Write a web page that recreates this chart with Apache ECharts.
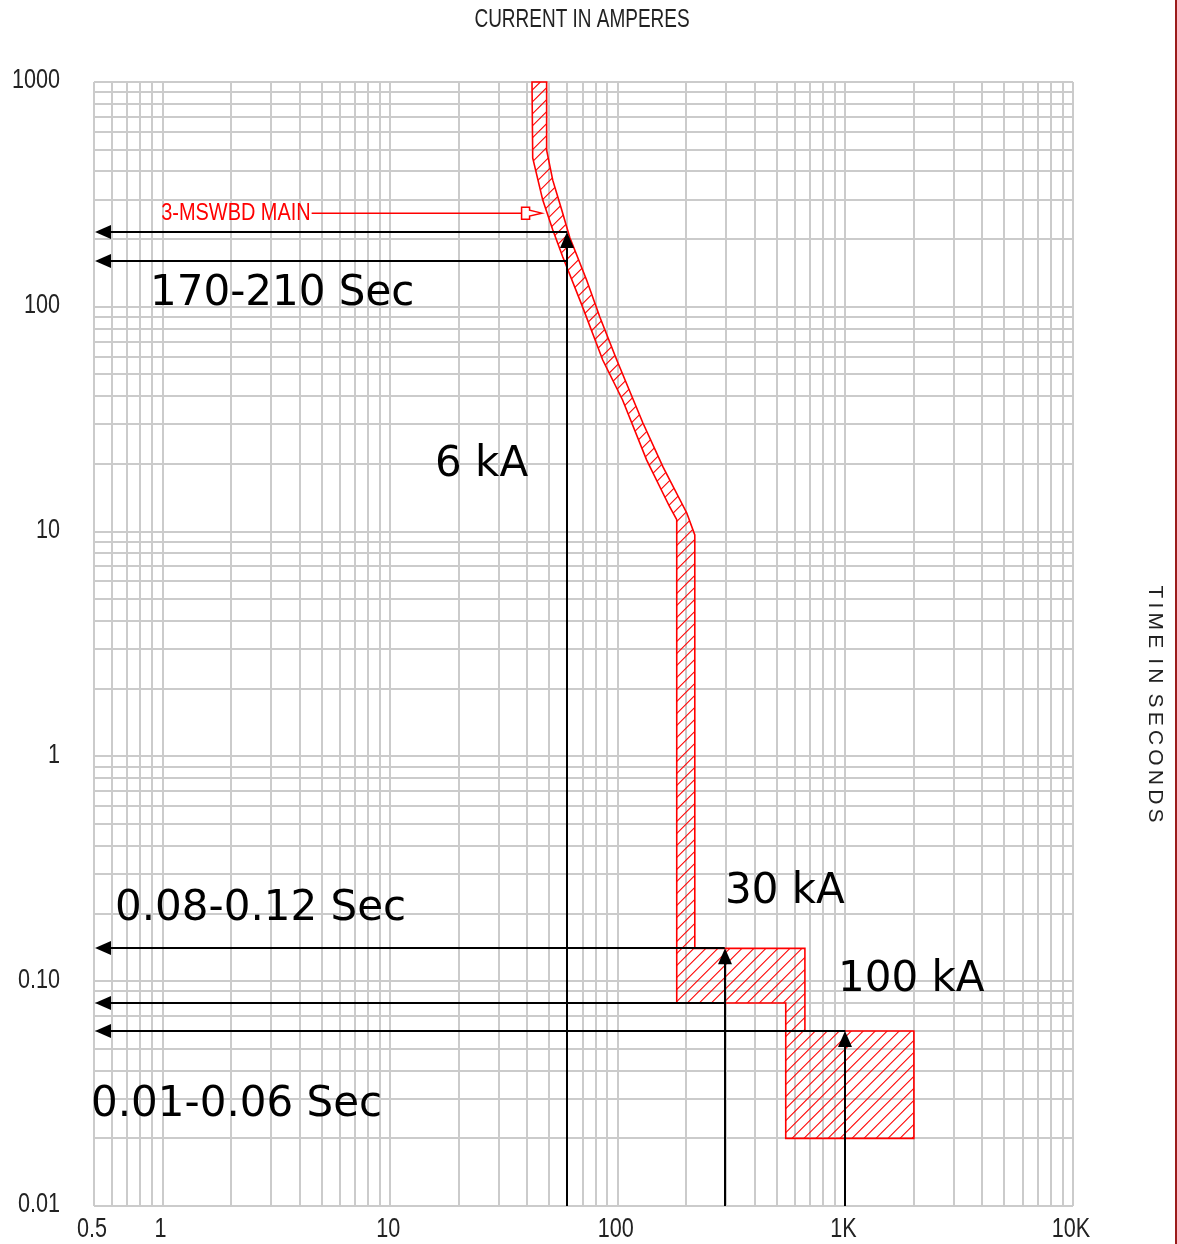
<!DOCTYPE html>
<html><head><meta charset="utf-8">
<script src="https://cdn.jsdelivr.net/npm/echarts@6/dist/echarts.min.js"></script>
<style>html,body{margin:0;padding:0;background:#fff}#c{width:1177px;height:1244px}</style>
</head><body><div id="c"></div>
<script>
// ---- axis tick labels ----
const xTicks = [0.5, 1, 10, 100, 1000, 10000];
const xTickLabels = ['0.5', '1', '10', '100', '1K', '10K'];
const yTicks = [0.01, 0.1, 1, 10, 100, 1000];
const yTickLabels = ['0.01', '0.10', '1', '10', '100', '1000'];

// ---- 3-MSWBD MAIN trip band outline (current A, time s), clockwise ----
const bandCurrent = [42, 42.3, 46.8, 51.8, 57.3, 69.5, 85.9, 105, 134, 169, 181.6,
  181.6, 547, 547, 2000, 2000, 664, 664, 218, 218,
  201, 158, 129, 99, 83.4, 73.1, 61.5, 56.7, 51.8, 48.7, 48.7];
const bandTime = [1000, 459, 299, 220, 167, 102, 58, 38.5, 20.8, 12.9, 11.3,
  0.080, 0.080, 0.02, 0.02, 0.06, 0.06, 0.14, 0.14, 9.66,
  12.1, 19.4, 30.4, 58, 90, 131, 204, 270, 366, 498, 1000];

// ---- black annotation arrows ----
// horizontal arrows: from left edge (arrow head) to current hEnd at time hTime
const hTime = [215, 160, 0.14, 0.08, 0.06];
const hEnd = [60, 60, 295, 295, 1000];
// vertical arrows: from bottom up to time vTop (arrow head at top)
const vCurrent = [60, 295, 1000];
const vTop = [215, 0.14, 0.06];

// ---- red label pointer (current from, to, tip; time) ----
const pointerCurrent = [4.52, 37.8, 46.4];
const pointerTime = 261;

const X_MIN = 0.5, X_MAX = 10000, Y_MIN = 0.01, Y_MAX = 1000;

// log grid lines (1..9 per decade)
const gridX = [], gridY = [];
for (let e = -1; e <= 3; e++) for (let m = 1; m <= 9; m++) {
  const v = +(m * Math.pow(10, e)).toPrecision(3);
  if (v >= X_MIN && v <= X_MAX) gridX.push(v);
}
gridX.push(X_MAX);
for (let e = -2; e <= 2; e++) for (let m = 1; m <= 9; m++) gridY.push(+(m * Math.pow(10, e)).toPrecision(3));
gridY.push(Y_MAX);

const SANS = '"Liberation Sans", Arial, sans-serif';
const BIG = '"DejaVu Sans", Verdana, sans-serif';

function narrowText(x, y, text, size, sx, fill, align) {
  return { type: 'text', x: x, y: y, scaleX: sx, scaleY: 1,
    style: { x: 0, y: 0, text: text, fontSize: size, fontFamily: SANS, fill: fill, align: align, verticalAlign: 'middle' } };
}

function renderGrid(params, api) {
  const top = api.coord([1, Y_MAX])[1], bottom = api.coord([1, Y_MIN])[1];
  const left = api.coord([X_MIN, 1])[0], right = api.coord([X_MAX, 1])[0];
  const ch = [];
  gridX.forEach(v => {
    const x = Math.round(api.coord([v, 1])[0]);
    ch.push({ type: 'line', shape: { x1: x, y1: top, x2: x, y2: bottom }, style: { stroke: '#cbcbcb', lineWidth: 2 } });
  });
  gridY.forEach(v => {
    const y = Math.round(api.coord([1, v])[1]);
    ch.push({ type: 'line', shape: { x1: left, y1: y, x2: right, y2: y }, style: { stroke: '#cbcbcb', lineWidth: 2 } });
  });
  xTicks.forEach((v, i) => {
    const x = api.coord([v, 1])[0];
    ch.push(narrowText(x - 2, bottom + 24, xTickLabels[i], 27, 0.8, '#222', 'center'));
  });
  yTicks.forEach((v, i) => {
    const y = api.coord([1, v])[1];
    ch.push(narrowText(left - 34, y - 1, yTickLabels[i], 27, 0.8, '#222', 'right'));
  });
  return { type: 'group', children: ch };
}

function renderBand(params, api) {
  const pts = bandCurrent.map((c, i) => api.coord([c, bandTime[i]]));
  let x0 = Infinity, x1 = -Infinity, y0 = Infinity, y1 = -Infinity;
  pts.forEach(p => { x0 = Math.min(x0, p[0]); x1 = Math.max(x1, p[0]); y0 = Math.min(y0, p[1]); y1 = Math.max(y1, p[1]); });
  const H = y1 - y0;
  const hatch = [];
  for (let s = Math.floor((x0 - H) / 12) * 12; s <= x1; s += 12) {
    hatch.push({ type: 'line', shape: { x1: s, y1: y1, x2: s + H, y2: y0 }, style: { stroke: '#ff0000', lineWidth: 1.1 } });
  }
  return {
    type: 'group', children: [
      { type: 'group', clipPath: { type: 'polygon', shape: { points: pts } }, children: hatch },
      { type: 'polygon', shape: { points: pts }, style: { fill: null, stroke: '#ff0000', lineWidth: 1.6 } }
    ]
  };
}

function triangle(tip, dx, dy, len, hw) {
  const bx = tip[0] + dx * len, by = tip[1] + dy * len;
  return [tip, [bx - dy * hw, by + dx * hw], [bx + dy * hw, by - dx * hw]];
}

function renderArrows(params, api) {
  const ch = [];
  const bottom = api.coord([1, Y_MIN])[1];
  hTime.forEach((t, i) => {
    const a = api.coord([X_MIN, t]), b = api.coord([hEnd[i], t]);
    const y = Math.round(a[1]);
    const tip = [a[0] + 1, y];
    ch.push({ type: 'line', shape: { x1: tip[0] + 8, y1: y, x2: b[0], y2: y }, style: { stroke: '#000', lineWidth: 2 } });
    ch.push({ type: 'polygon', shape: { points: triangle(tip, 1, 0, 16, 7) }, style: { fill: '#000' } });
  });
  vCurrent.forEach((c, i) => {
    const a = api.coord([c, vTop[i]]);
    const x = Math.round(a[0]);
    const tip = [x, a[1]];
    ch.push({ type: 'line', shape: { x1: x, y1: bottom, x2: x, y2: tip[1] + 8 }, style: { stroke: '#000', lineWidth: 2 } });
    ch.push({ type: 'polygon', shape: { points: triangle(tip, 0, 1, 16, 7) }, style: { fill: '#000' } });
  });
  // red pointer from label to curve
  const p0 = api.coord([pointerCurrent[0], pointerTime]);
  const p1 = api.coord([pointerCurrent[1], pointerTime]);
  const p2 = api.coord([pointerCurrent[2], pointerTime]);
  const y = p0[1];
  ch.push({ type: 'line', shape: { x1: p0[0], y1: y, x2: p1[0], y2: y }, style: { stroke: '#ff0000', lineWidth: 1.5 } });
  const r = p1[0] + 8;
  ch.push({ type: 'polygon', shape: { points: [[p1[0], y - 6], [r, y - 6], [r, y - 3], [p2[0], y], [r, y + 3], [r, y + 6], [p1[0], y + 6]] }, style: { fill: '#fff', stroke: '#ff0000', lineWidth: 1.5 } });
  ch.push(narrowText(p0[0] - 1, y, '3-MSWBD MAIN', 24, 0.83, '#ff0000', 'right'));
  return { type: 'group', children: ch };
}

const chart = echarts.init(document.getElementById('c'), null, { renderer: 'canvas' });
const bigText = (x, y, t) => ({ type: 'text', x: x, y: y, style: { text: t, fontSize: 42, fontFamily: BIG, fill: '#000', align: 'left', verticalAlign: 'middle' }, z: 100 });
chart.setOption({
  animation: false,
  backgroundColor: '#fff',
  grid: { left: 94, right: 104, top: 82, bottom: 38, show: false },
  xAxis: { type: 'log', logBase: 10, min: X_MIN, max: X_MAX, axisLine: { show: false }, axisTick: { show: false }, axisLabel: { show: false }, splitLine: { show: false } },
  yAxis: { type: 'log', logBase: 10, min: Y_MIN, max: Y_MAX, axisLine: { show: false }, axisTick: { show: false }, axisLabel: { show: false }, splitLine: { show: false } },
  series: [
    { type: 'custom', name: 'grid', data: [[1, 1]], renderItem: renderGrid, z: 1, silent: true },
    { type: 'custom', name: '3-MSWBD MAIN', data: [[1, 1]], renderItem: renderBand, z: 2, silent: true },
    { type: 'custom', name: 'arrows', data: [[1, 1]], renderItem: renderArrows, z: 3, silent: true }
  ],
  graphic: [
    { type: 'text', x: 582, y: 20, scaleX: 0.73, style: { x: 0, y: 0, text: 'CURRENT IN AMPERES', fontSize: 26, fontFamily: SANS, fill: '#222', align: 'center', verticalAlign: 'middle' } },
    { type: 'text', x: 1155, y: 704, rotation: -Math.PI / 2, style: { text: 'T\u2009I\u2009M\u2009E\u2009 I\u2009N\u2009 S\u2009E\u2009C\u2009O\u2009N\u2009D\u2009S', fontSize: 21, fontFamily: SANS, fill: '#222', align: 'center', verticalAlign: 'middle' } },
    { type: 'line', shape: { x1: 1176, y1: 0, x2: 1176, y2: 1244 }, style: { stroke: '#9b1c1c', lineWidth: 2 } },
    bigText(150, 294, '170-210 Sec'),
    bigText(435, 465, '6 kA'),
    bigText(725, 892, '30 kA'),
    bigText(115, 909, '0.08-0.12 Sec'),
    bigText(838, 980, '100 kA'),
    bigText(91, 1105, '0.01-0.06 Sec')
  ]
});
</script>
</body></html>
